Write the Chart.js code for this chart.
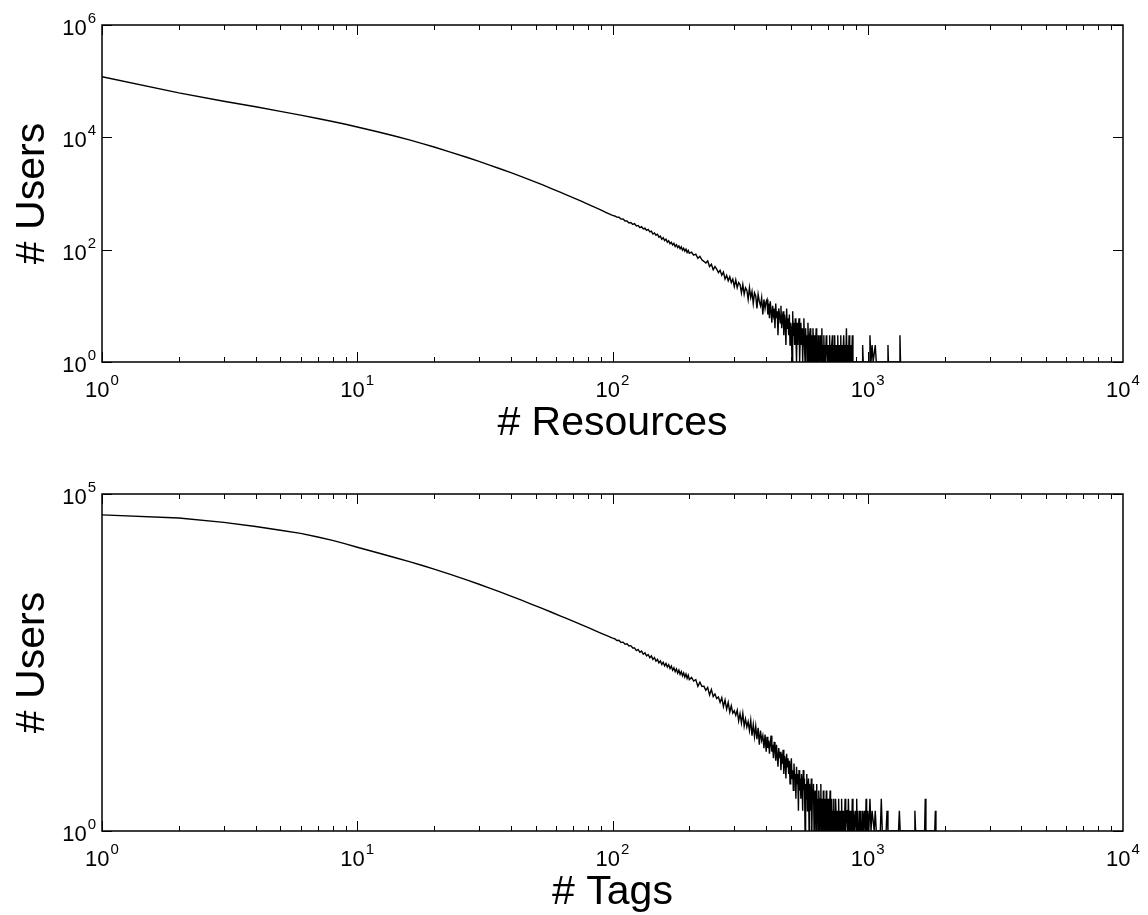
<!DOCTYPE html>
<html>
<head>
<meta charset="utf-8">
<script src="https://cdn.jsdelivr.net/npm/chart.js@4.4.1/dist/chart.umd.min.js"></script>
<style>
  html, body { margin: 0; padding: 0; background: #fff; }
  #wrap { position: relative; width: 1148px; height: 915px; }
  canvas { position: absolute; left: 0; }
  #chart-res { top: 0; }
  #chart-tag { top: 457px; }
</style>
</head>
<body>
<div id="wrap">
  <canvas id="chart-res" width="1148" height="457"></canvas>
  <canvas id="chart-tag" width="1148" height="458"></canvas>
</div>
<script>
// x positions shared by both curves (counts per user)
const countsX = [
  1,2,3,4,5,6,7,8,9,10,12,14,16,18,20,23,27,30,33,36,40,44,48,53,58,63,66,70,75,80,85,89,95,100,
  102,104,106,108,110,112,114,116,118,120,122,124,126,128,130,132,134,136,138,140,
  142,144,146,148,150,152,154,156,158,160,162,164,166,168,170,172,174,176,178,180,
  182,184,186,188,190,192,194,196,198,200,
  204,208,212,216,220,224,228,232,236,240,244,248,252,256,260,264,268,272,276,280,
  284,288,292,296,300,304,308,312,316,320,324,328,332,336,340,344,348,352,356,360,
  364,368,372,376,380,384,388,392,396,400,
  403,406,409,412,415,418,421,424,427,430,433,436,439,442,445,448,451,454,457,460,
  463,466,469,472,475,478,481,484,487,490,493,496,499,502,505,508,511,514,517,520,
  523,526,529,532,535,538,541,544,547,550,553,556,559,562,565,568,571,574,577,580,
  583,586,589,592,595,598,601,604,607,610,613,616,619,622,625,628,631,634,637,640,
  643,646,649,652,655,658,661,664,667,670,673,676,679,682,685,688,691,694,697,700,
  703,706,709,712,715,718,721,724,727,730,733,736,739,742,745,748,751,754,757,760,
  763,766,769,772,775,778,781,784,787,790,793,796,799
];

// # users vs # resources
const resUsers = [
  120000,62000,44000,35000,29000,24800,21600,19100,17100,15300,12550,10560,9000,7740,6720,
  5525,4370,3725,3210,2790,2345,1995,1713,1433,1213,1037,948,845,736,647,571,520,453,407,
  398,380,377,350,352,324,325,300,305,281,290,264,270,248,258,235,241,220,229,207,
  214,190,199,181,188,167,174,153,163,145,153,136,144,128,136,121,129,114,123,109,
  117,104,112,98,106,94,102,89,97,86,
  90,80,83,70,76,66,62,58,63,50,55,44,50,45,39,43,35,40,30,35,
  28,33,26,30,22,29,21,26,24,17,24,16,21,19,13,21,14,18,11,17,
  15,9,16,12,10,14,7,13,9,12,
  13,7,11,6,12,8,5,10,7,9,4,11,6,8,3,9,7,5,10,4,
  6,8,3,7,5,2,9,4,6,3,7,2,5,4,1,8,3,5,2,6,
  3,1,5,2,4,6,1,3,5,2,4,1,3,6,2,1,4,2,3,1,
  5,2,1,3,4,1,2,3,1,4,2,1,3,1,2,4,1,2,1,3,
  1,2,1,3,2,1,4,1,2,1,3,1,2,1,1,3,2,1,2,1,
  2,1,3,1,2,1,1,2,3,1,2,1,1,3,1,2,1,2,1,1,
  3,1,2,1,1,2,1,3,1,2,1,2,1
];
const resFarX = [805,810,815,820,825,830,835,840,845,850,855,860,865,870,875,880,
  950,955,960, 1015,1020,1030,1040,1050,1070,1080, 1195,1200,1205, 1330,1337,1344];
const resFarY = [3,1,2,1,4,1,2,1,3,1,1,2,1,3,1,1,
  1,2,1, 1,3,1,2,1,2,1, 1,2,1, 1,3,1];

// # users vs # tags
const tagUsers = [
  49000,44000,38000,33000,29000,26000,23000,20500,18200,16200,13450,11440,9900,8680,7675,
  6470,5270,4580,4020,3560,3060,2660,2330,2006,1745,1532,1424,1297,1162,1047,949,880,791,727,
  712,670,675,628,634,590,598,555,562,520,521,474,493,447,466,419,440,396,415,371,
  396,352,374,331,352,313,334,296,318,281,306,271,294,258,280,243,264,231,253,220,
  243,210,232,201,222,192,213,184,205,176,
  190,168,176,140,162,139,141,122,135,104,126,99,108,92,97,81,95,70,88,64,
  81,58,72,56,61,52,62,43,55,40,56,36,46,35,42,31,44,26,38,25,
  36,23,34,19,31,22,26,17,27,15,
  25,17,22,14,20,26,15,19,12,21,16,11,19,13,9,17,12,15,8,14,
  10,16,7,13,11,6,14,9,12,7,11,5,9,12,6,8,4,10,6,7,
  3,9,5,7,2,8,4,6,3,7,5,2,8,4,6,1,5,3,7,2,
  4,6,1,5,3,2,6,1,4,3,5,1,3,4,2,1,5,2,3,1,
  4,2,1,3,5,1,2,3,1,4,2,1,3,2,1,4,1,2,3,1,
  3,1,2,4,1,2,1,3,1,2,1,3,1,2,1,3,2,1,2,1,
  2,1,3,1,2,1,1,2,1,3,1,2,1
];
const tagFarX = [805,810,815,820,825,830,835,840,845,850,855,860,865,870,875,880,885,890,895,900,
  905,910,915,920,925,930,935,940,945,950,955,960,965,970,975,980,985,990,995,1000,
  1010,1020,1030,1040,1060,1070,1080, 1120,1130,1140, 1180,1190,1200, 1320,1330,1340,
  1520,1530,1540, 1670,1680,1690, 1830,1840,1850];
const tagFarY = [2,1,3,1,2,2,1,3,1,2,1,2,1,3,1,2,1,1,2,1,
  3,1,2,1,1,2,1,2,1,1,2,1,1,2,1,1,3,1,1,2,
  1,3,1,2,1,2,1, 1,3,1, 1,2,1, 1,2,1,
  1,2,1, 1,3,1, 1,2,1];

// tick labels are 10^exp
const xTickExps = [0, 1, 2, 3, 4];
const resYTickExps = [0, 2, 4, 6];
const tagYTickExps = [0, 5];

const FONT = '"Liberation Sans", Arial, Helvetica, sans-serif';

function drawPow(ctx, x, y, exp, align) {
  ctx.font = `22px ${FONT}`;
  const wBase = ctx.measureText('10').width;
  ctx.font = `15px ${FONT}`;
  const wExp = ctx.measureText(String(exp)).width;
  const total = wBase + 1 + wExp;
  const left = align === 'center' ? x - total / 2 : x - total;
  ctx.font = `22px ${FONT}`;
  ctx.fillText('10', left, y);
  ctx.font = `15px ${FONT}`;
  ctx.fillText(String(exp), left + wBase + 1, y - 12);
}

const framePlugin = {
  id: 'frame',
  afterDraw(chart, args, opts) {
    const { ctx, chartArea: a, scales: { x, y } } = chart;
    ctx.save();
    ctx.strokeStyle = '#000';
    ctx.fillStyle = '#000';
    ctx.lineWidth = 1;

    // x ticks, inward on bottom and top
    ctx.beginPath();
    for (let d = 0; d < 4; d++) {
      for (let k = 1; k < 10; k++) {
        const px = Math.round(x.getPixelForValue(k * Math.pow(10, d))) + 0.5;
        const len = k === 1 ? 10 : 5;
        ctx.moveTo(px, a.bottom); ctx.lineTo(px, a.bottom - len);
        ctx.moveTo(px, a.top); ctx.lineTo(px, a.top + len);
      }
    }
    // y ticks, inward on left and right
    opts.yExps.forEach(e => {
      const py = Math.round(y.getPixelForValue(Math.pow(10, e))) + 0.5;
      ctx.moveTo(a.left, py); ctx.lineTo(a.left + 10, py);
      ctx.moveTo(a.right, py); ctx.lineTo(a.right - 10, py);
    });
    ctx.stroke();

    ctx.lineWidth = 1.5;
    ctx.strokeRect(a.left, a.top, a.right - a.left, a.bottom - a.top);

    // tick labels
    ctx.textAlign = 'left';
    ctx.textBaseline = 'alphabetic';
    xTickExps.forEach(e => {
      drawPow(ctx, x.getPixelForValue(Math.pow(10, e)), a.bottom + 35, e, 'center');
    });
    opts.yExps.forEach(e => {
      drawPow(ctx, a.left - 6, y.getPixelForValue(Math.pow(10, e)) + 10, e, 'right');
    });

    // axis titles
    ctx.font = `41px ${FONT}`;
    ctx.textAlign = 'center';
    ctx.fillText(opts.xTitle, (a.left + a.right) / 2, a.bottom + 73);
    ctx.translate(44, (a.top + a.bottom) / 2);
    ctx.rotate(-Math.PI / 2);
    ctx.fillText(opts.yTitle, 0, 0);
    ctx.restore();
  }
};

function makePanel(id, xs, ys, yMax, yExps, xTitle, pad) {
  const points = xs.map((v, i) => ({ x: v, y: ys[i] }));
  return new Chart(document.getElementById(id), {
    type: 'line',
    data: {
      datasets: [{
        data: points,
        borderColor: '#000',
        borderWidth: 1.4,
        pointRadius: 0,
        tension: 0,
        fill: false,
      }],
    },
    options: {
      responsive: false,
      animation: false,
      devicePixelRatio: 1,
      layout: { padding: pad },
      scales: {
        x: { type: 'logarithmic', min: 1, max: 10000, display: false },
        y: { type: 'logarithmic', min: 1, max: yMax, display: false },
      },
      plugins: {
        legend: { display: false },
        tooltip: { enabled: false },
        frame: { yExps, xTitle, yTitle: '# Users' },
      },
    },
    plugins: [framePlugin],
  });
}

makePanel('chart-res', countsX.concat(resFarX), resUsers.concat(resFarY), 1e6, resYTickExps,
  '# Resources', { left: 102, top: 25, right: 25, bottom: 95 });
makePanel('chart-tag', countsX.concat(tagFarX), tagUsers.concat(tagFarY), 1e5, tagYTickExps,
  '# Tags', { left: 102, top: 37, right: 25, bottom: 84 });
</script>
</body>
</html>
